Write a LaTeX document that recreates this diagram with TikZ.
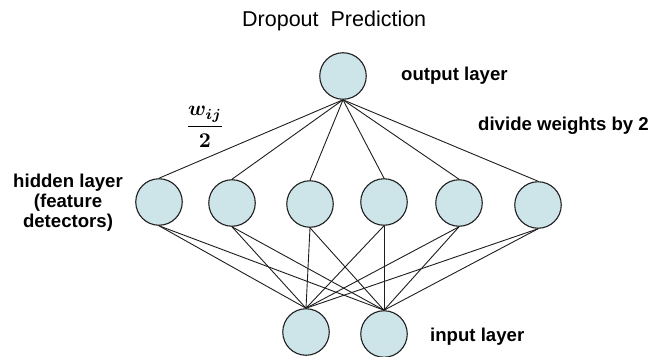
\documentclass[tikz,border=0pt]{standalone}
\usepackage{fontspec}
\usepackage{amsmath}
\usetikzlibrary{backgrounds}
\setmainfont{Liberation Sans}
\definecolor{nodefill}{RGB}{205,228,232}
\definecolor{edgecol}{RGB}{30,30,30}
\begin{document}
\begin{tikzpicture}[x=1pt,y=-1pt,
  neuron/.style={circle,draw=edgecol,line width=1.1pt,fill=nodefill,minimum size=46.5pt,inner sep=0pt},
  conn/.style={draw=edgecol,line width=0.9pt},
  lbl/.style={font=\fontsize{18.6}{20}\selectfont\bfseries,inner sep=0pt},
  ttl/.style={font=\fontsize{21.5}{24}\selectfont,inner sep=0pt}]
\useasboundingbox (0,0) rectangle (653,356);
% nodes
\node[neuron] (o) at (343,76) {};
\node[neuron] (h1) at (159,202) {};
\node[neuron] (h2) at (232,203) {};
\node[neuron] (h3) at (310,204) {};
\node[neuron] (h4) at (384,202) {};
\node[neuron] (h5) at (459,203) {};
\node[neuron] (h6) at (538,205) {};
\node[neuron] (i1) at (306,332) {};
\node[neuron] (i2) at (384,334) {};
% connectors
\begin{scope}[on background layer]
\foreach \h in {h1,h2,h3,h4,h5,h6}{
  \draw[conn] (o.south) -- (\h.north);
  \draw[conn] (\h.south) -- (i1.north);
  \draw[conn] (\h.south) -- (i2.north);
}
\end{scope}
% texts
\node[ttl,anchor=base west] (title) at (242,27) {Dropout\ \ Prediction};
\node[lbl,anchor=base west] (outl) at (401,80) {output layer};
\node[lbl,anchor=base west] (divl) at (478,130) {divide weights by 2};
\node[lbl,anchor=north,align=center] (hidl) at (68,173.5) {hidden layer\\(feature\\detectors)};
\node[lbl,anchor=base west] (inl) at (430,341) {input layer};
\node[inner sep=0pt,scale=2.1,font=\boldmath] (w) at (205,127) {$\displaystyle\frac{w_{ij}}{2}$};
\end{tikzpicture}
\end{document}
